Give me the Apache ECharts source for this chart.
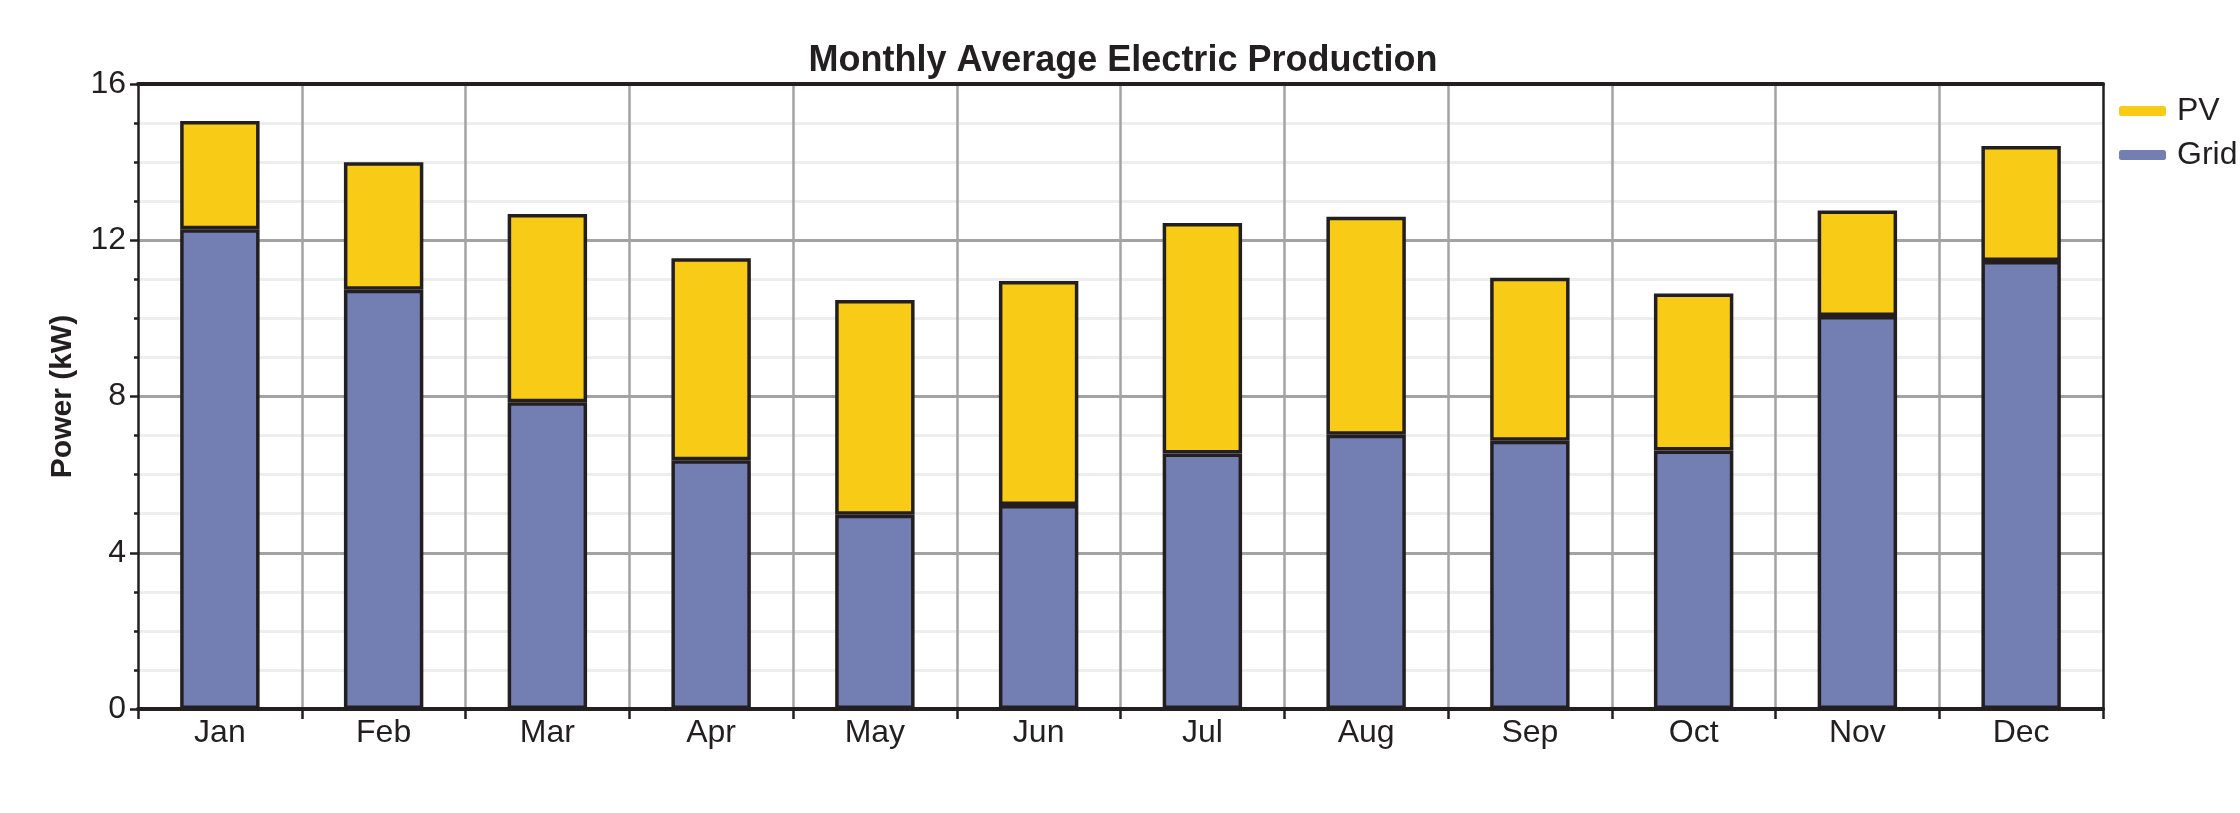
<!DOCTYPE html>
<html>
<head>
<meta charset="utf-8">
<script src="https://cdn.jsdelivr.net/npm/echarts@6/dist/echarts.min.js"></script>
<style>
html,body{margin:0;padding:0;background:#fff;}
#chart{width:2240px;height:813px;}
</style>
</head>
<body>
<div id="chart"></div>
<script>
const months = ['Jan','Feb','Mar','Apr','May','Jun','Jul','Aug','Sep','Oct','Nov','Dec'];
const gridPower = [12.28, 10.73, 7.85, 6.37, 4.97, 5.22, 6.54, 7.02, 6.87, 6.62, 10.06, 11.47];
const pvPower = [2.77, 3.27, 4.82, 5.17, 5.50, 5.74, 5.90, 5.58, 4.17, 4.02, 2.70, 2.94];
const yTicks = [0, 4, 8, 12, 16];

const FONT = '"Liberation Sans", Arial, sans-serif';
const INK = '#231f20';

const chart = echarts.init(document.getElementById('chart'), null, {renderer: 'canvas'});
chart.setOption({
  backgroundColor: '#ffffff',
  animation: false,
  title: {
    text: 'Monthly Average Electric Production',
    left: 1118, textAlign: 'center', top: 38,
    textStyle: {fontFamily: FONT, fontSize: 36, fontWeight: 'bold', color: INK}
  },
  legend: {
    orient: 'vertical',
    left: 2114, top: 90,
    itemWidth: 47, itemHeight: 10, itemGap: 12,
    icon: 'roundRect',
    itemStyle: {borderWidth: 0},
    data: ['PV', 'Grid'],
    textStyle: {fontFamily: FONT, fontSize: 32, color: INK, padding: [0, 0, 0, 6], lineHeight: 30}
  },
  grid: {
    left: 138, right: 137, top: 84, bottom: 104,
    show: false
  },
  xAxis: [{
    type: 'category',
    data: months,
    boundaryGap: true,
    position: 'bottom',
    axisLine: {show: true, lineStyle: {color: INK, width: 4}},
    axisTick: {show: true, inside: false, length: 10, lineStyle: {color: INK, width: 2.5}},
    axisLabel: {fontFamily: FONT, fontSize: 32, color: INK, margin: 8},
    splitLine: {show: true, showMinLine: false, showMaxLine: false, lineStyle: {color: '#a3a3a3', width: 2.5}}
  }, {
    type: 'category',
    data: months,
    position: 'top',
    axisLine: {show: true, onZero: false, lineStyle: {color: INK, width: 4}},
    axisTick: {show: false},
    axisLabel: {show: false},
    splitLine: {show: false},
    z: 5
  }],
  yAxis: [{
    type: 'value',
    min: yTicks[0], max: yTicks[yTicks.length - 1], interval: 4,
    position: 'left',
    name: 'Power (kW)',
    nameLocation: 'middle',
    nameGap: 60,
    nameRotate: 90,
    nameTextStyle: {fontFamily: FONT, fontSize: 30, fontWeight: 'bold', color: INK},
    axisLine: {show: true, onZero: false, lineStyle: {color: INK, width: 2.5}},
    axisTick: {show: true, inside: false, length: 8, lineStyle: {color: INK, width: 2.5}},
    minorTick: {show: true, splitNumber: 4, length: 4, lineStyle: {color: INK, width: 2.5}},
    axisLabel: {fontFamily: FONT, fontSize: 32, color: INK, margin: 12},
    splitLine: {show: true, showMinLine: false, showMaxLine: false, lineStyle: {color: '#a3a3a3', width: 3}},
    minorSplitLine: {show: true, lineStyle: {color: '#eeeeee', width: 3}}
  }, {
    type: 'value',
    min: yTicks[0], max: yTicks[yTicks.length - 1], interval: 4,
    position: 'right',
    axisLine: {show: true, onZero: false, lineStyle: {color: INK, width: 2.5}},
    axisTick: {show: false},
    axisLabel: {show: false},
    splitLine: {show: false},
    z: 5
  }],
  series: [
    {
      name: 'Grid', type: 'bar', stack: 'total', data: gridPower, barWidth: '48.5%',
      itemStyle: {color: '#737fb3', borderColor: INK, borderWidth: 3.5}
    },
    {
      name: 'PV', type: 'bar', stack: 'total', data: pvPower, barWidth: '48.5%',
      itemStyle: {color: '#f8cb16', borderColor: INK, borderWidth: 3.5}
    }
  ]
});
</script>
</body>
</html>
